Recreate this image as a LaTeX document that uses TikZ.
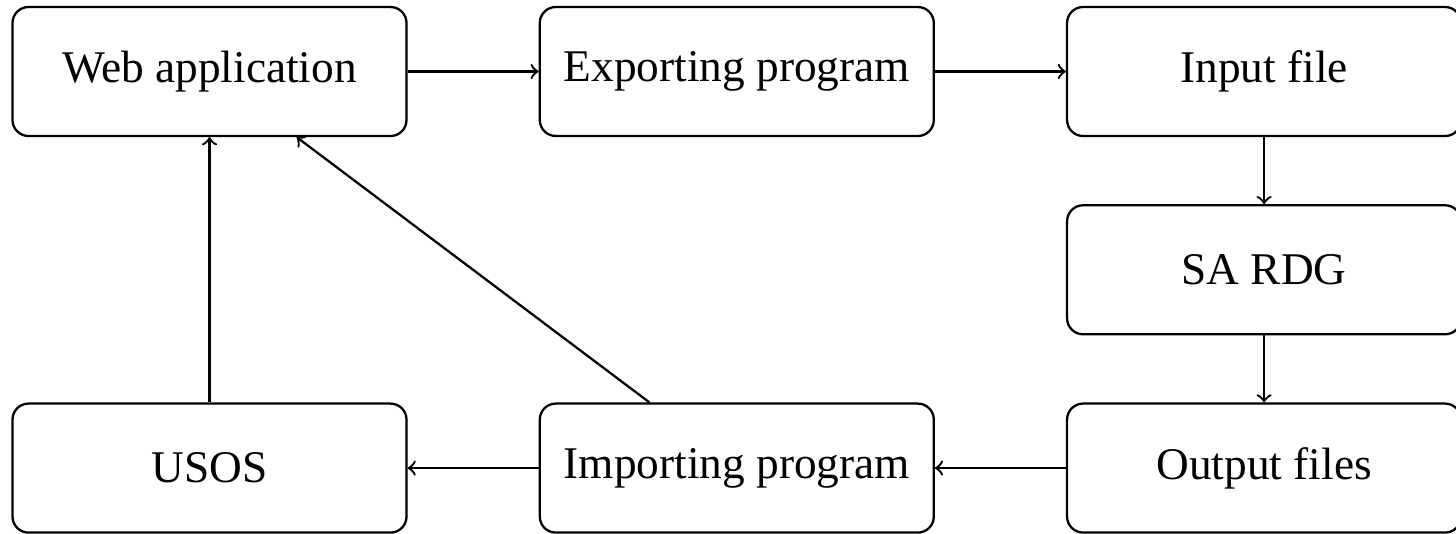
\documentclass[tikz,border=0pt]{standalone}
\usepackage{fontspec}
\setmainfont{Liberation Serif}
\usetikzlibrary{positioning}

\begin{document}
\begin{tikzpicture}[->,>=to,auto,node distance=1.31cm,line width=0.65pt,
    box/.style={draw,rounded corners=0.16cm,minimum width=3.94cm,minimum height=1.29cm,
                font=\fontsize{12.9}{15}\selectfont}]
            \useasboundingbox (0,0) rectangle (14.56,-5.33);
            \node[box] (web) at (2.095,-0.715) {Web application};
            \node[box] (exp) [right=of web] {Exporting program};
            \node[box] (inp) [right=of exp] {Input file};
            \node[box] (sardg) [below=0.67cm of inp] {SA RDG};
            \node[box] (out) [below=0.67cm of sardg] {Output files};
            \node[box] (imp) [left=of out] {Importing program};
            \node[box] (usos) [left=of imp] {USOS};

            \path
                (web) edge (exp)
                (exp) edge (inp)
                (inp) edge (sardg)
                (sardg) edge (out)
                (out) edge (imp)
                (imp) edge (usos)
                (usos) edge (web)
                (imp) edge (web)
                ;
        \end{tikzpicture}
\end{document}
